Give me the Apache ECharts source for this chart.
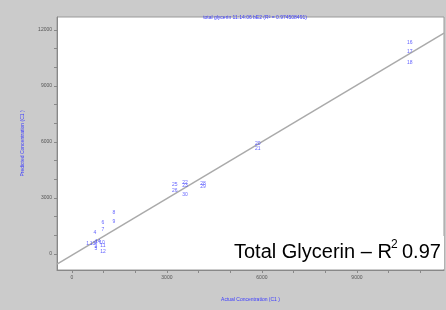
<!DOCTYPE html>
<html>
<head>
<meta charset="utf-8">
<script src="https://cdn.jsdelivr.net/npm/echarts@6/dist/echarts.min.js"></script>
<style>
  html, body { margin: 0; padding: 0; background: #cbcbcb; }
  #chart { width: 446px; height: 310px; }
</style>
</head>
<body>
<div id="chart"></div>
<script>
// sample numbers, actual vs predicted concentration
var sampleIds = ["16", "17", "18", "20", "21", "25", "26", "22", "23", "30", "28", "29",
  "8", "9", "6", "7", "4", "1", "2", "3", "5", "10", "11", "12", "13", "14"];
var actual = [10670, 10670, 10670, 5870, 5870, 3250, 3250, 3570, 3570, 3570, 4140, 4140,
  1330, 1330, 980, 980, 730, 500, 760, 760, 760, 950, 980, 980, 650, 820];
var predicted = [11300, 10820, 10230, 5890, 5620, 3700, 3420, 3800, 3650, 3160, 3750, 3590,
  2190, 1710, 1660, 1330, 1120, 580, 630, 370, 260, 600, 470, 110, 560, 640];
// regression line end points
var fitX = [-470, 11750];
var fitY = [-540, 11840];
var xTicks = [0, 1000, 2000, 3000, 4000, 5000, 6000, 7000, 8000, 9000, 10000, 11000];
var xLabels = [0, 3000, 6000, 9000];
var yTicks = [0, 1000, 2000, 3000, 4000, 5000, 6000, 7000, 8000, 9000, 10000, 11000, 12000];
var yLabels = [0, 3000, 6000, 9000, 12000];

var chart = echarts.init(document.getElementById("chart"));
var points = sampleIds.map(function (id, i) { return [actual[i], predicted[i], id]; });
var plain = function (v) { return String(v); };

chart.setOption({
  backgroundColor: "#cbcbcb",
  animation: false,
  title: {
    text: "total glycerin 11:14:06 bE2 (R² = 0.974508491)",
    left: 250, top: 10, textAlign: "center",
    textStyle: { color: "#3a3aff", fontSize: 5, fontWeight: "normal", fontFamily: "Liberation Sans" }
  },
  grid: { left: 57, top: 17, right: 2, bottom: 40, show: true, backgroundColor: "#fff", borderColor: "#999", borderWidth: 1 },
  xAxis: {
    type: "value", min: -470, max: 11750,
    name: "Actual Concentration (C1 )", nameLocation: "middle", nameGap: 27,
    nameTextStyle: { color: "#3a3aff", fontSize: 5, fontFamily: "Liberation Sans" },
    axisLine: { onZero: false, lineStyle: { color: "#888" } },
    axisTick: { customValues: xTicks, length: 3, lineStyle: { color: "#888" } },
    axisLabel: { customValues: xLabels, formatter: plain, color: "#555", fontSize: 5, margin: 5 },
    splitLine: { show: false }
  },
  yAxis: {
    type: "value", min: -860, max: 12700,
    name: "Predicted Concentration (C1 )", nameLocation: "middle", nameGap: 32,
    nameTextStyle: { color: "#3a3aff", fontSize: 5, fontFamily: "Liberation Sans" },
    axisLine: { show: true, onZero: false, lineStyle: { color: "#888" } },
    axisTick: { show: true, customValues: yTicks, length: 3, lineStyle: { color: "#888" } },
    axisLabel: { customValues: yLabels, formatter: plain, color: "#555", fontSize: 5, margin: 5 },
    splitLine: { show: false }
  },
  series: [
    {
      type: "line",
      data: [[fitX[0], fitY[0]], [fitX[1], fitY[1]]],
      symbol: "none",
      lineStyle: { color: "#aaa", width: 1.5 },
      z: 1
    },
    {
      type: "scatter",
      data: points,
      symbolSize: 0,
      label: {
        show: true, position: "inside",
        formatter: function (p) { return p.value[2]; },
        color: "#3a3aff", fontSize: 5, fontFamily: "Liberation Sans"
      },
      z: 2
    }
  ],
  graphic: [
    { type: "rect", left: 232, top: 236, shape: { width: 212, height: 33 }, style: { fill: "#fff" }, z: 100 },
    {
      type: "text", left: 234, top: 242, z: 101,
      style: { text: "Total Glycerin – R", fill: "#000", font: "20px Liberation Sans" }
    },
    {
      type: "text", left: 391, top: 239, z: 101,
      style: { text: "2", fill: "#000", font: "12px Liberation Sans" }
    },
    {
      type: "text", left: 402, top: 242, z: 101,
      style: { text: "0.97", fill: "#000", font: "20px Liberation Sans" }
    }
  ]
});
</script>
</body>
</html>
